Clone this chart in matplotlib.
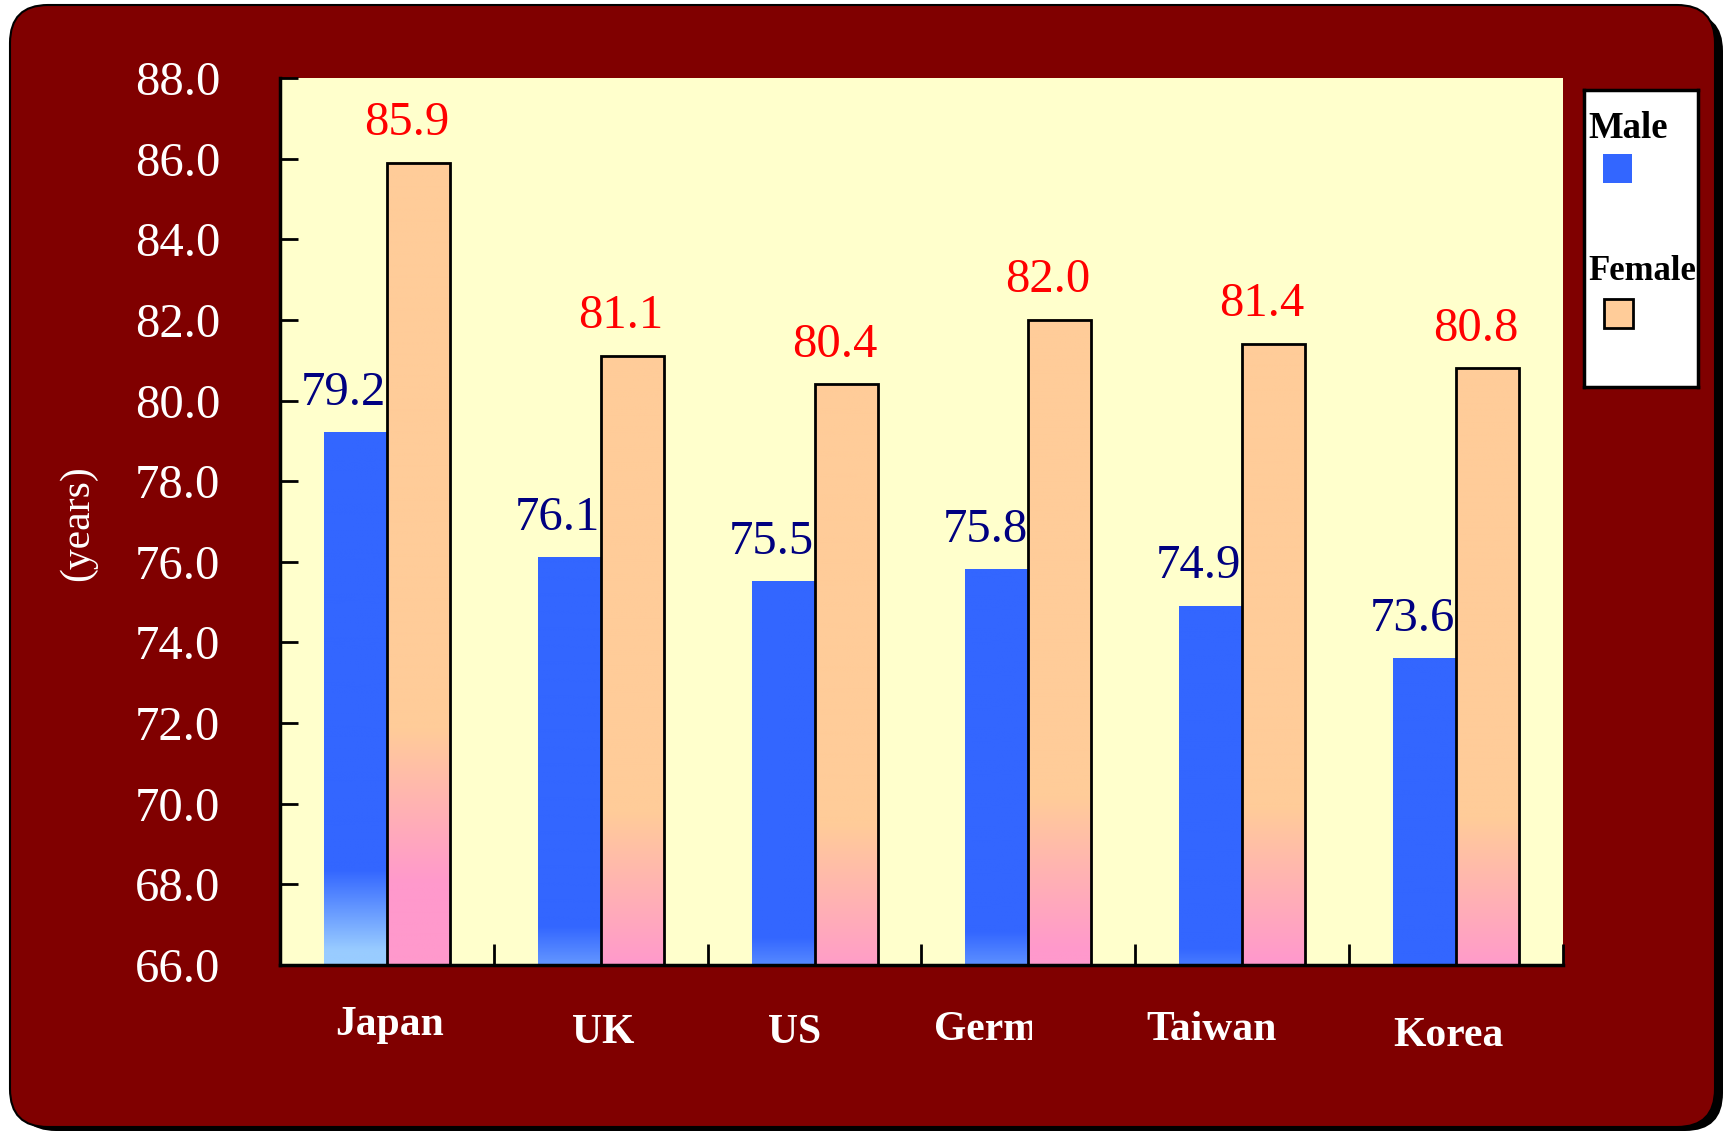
import numpy as np
import matplotlib
matplotlib.use("Agg")
import matplotlib.pyplot as plt
from matplotlib.patches import FancyBboxPatch, Rectangle
from matplotlib.colors import to_rgb
from matplotlib.transforms import Bbox, IdentityTransform

# ---------------- data ----------------
countries = ["Japan", "UK", "US", "Germany", "Taiwan", "Korea"]
male = [79.2, 76.1, 75.5, 75.8, 74.9, 73.6]
female = [85.9, 81.1, 80.4, 82.0, 81.4, 80.8]
series_names = ["Male", "Female"]
y_ticks = [66, 68, 70, 72, 74, 76, 78, 80, 82, 84, 86, 88]
y_label = "(years)"

# ---------------- style ----------------
W, H = 1724, 1131
DPI = 100
SERIF = ["Liberation Serif", "DejaVu Serif"]
plt.rcParams["font.family"] = SERIF

FRAME = "#800000"
PLOT_BG = "#FFFFCC"
BLUE = "#3366FF"
LIGHT_BLUE = "#99CCFF"
PEACH = "#FFCC99"
PINK = "#FF99CC"

# small pixel nudges of the category labels (as placed in the original)
label_dx = [3, 2, -20, -10, -31, -8]
label_dy = [0, 8, 8, 5, 5, 11]

fig = plt.figure(figsize=(W / DPI, H / DPI), dpi=DPI, facecolor="white")


def fx(px):
    return px / W


def fy(py):  # top-origin pixel -> figure fraction
    return 1 - py / H


# rounded frame with shadow (pixel coordinates)
shadow = FancyBboxPatch((18, 0), 1705, 1118,
                        boxstyle="round,pad=0,rounding_size=38",
                        transform=IdentityTransform(), facecolor="black",
                        edgecolor="none", zorder=-3)
fig.patches.append(shadow)
frame = FancyBboxPatch((10, 4), 1705, 1122,
                       boxstyle="round,pad=0,rounding_size=38",
                       transform=IdentityTransform(), facecolor=FRAME,
                       edgecolor="black", linewidth=1.5, zorder=-2)
fig.patches.append(frame)

# main axes
ax_l, ax_r, ax_t, ax_b = 280, 1563, 78, 965
ax = fig.add_axes([fx(ax_l), fy(ax_b), fx(ax_r - ax_l), (ax_b - ax_t) / H])
ax.set_facecolor(PLOT_BG)
ymin, ymax = y_ticks[0], y_ticks[-1]

x = np.arange(len(countries))
bw = 0.295
bars_m = ax.bar(x - bw / 2, male, width=bw, facecolor="none",
                edgecolor="none", zorder=3)
bars_f = ax.bar(x + bw / 2, female, width=bw, facecolor="none",
                edgecolor="black", linewidth=2, zorder=4)


def blend(c1, c2, f):
    a, b = np.array(to_rgb(c1)), np.array(to_rgb(c2))
    return a[None, :] * (1 - f[:, None]) + b[None, :] * f[:, None]


for rect, v in zip(bars_m, male):
    ys = np.linspace(ymin, v, 300)
    start = 32.7 + 0.45 * v
    f = np.clip((start - ys) / 2.0, 0, 1)
    img = blend(BLUE, LIGHT_BLUE, f)[:, None, :]
    x0 = rect.get_x()
    ax.imshow(img, extent=[x0, x0 + rect.get_width(), ymin, v],
              origin="lower", aspect="auto", zorder=2,
              interpolation="bilinear")

for rect, v in zip(bars_f, female):
    ys = np.linspace(ymin, v, 300)
    peach_end = 34.9 + 0.43 * v
    f = np.clip((peach_end - ys) / 3.8, 0, 1)
    img = blend(PEACH, PINK, f)[:, None, :]
    x0 = rect.get_x()
    ax.imshow(img, extent=[x0, x0 + rect.get_width(), ymin, v],
              origin="lower", aspect="auto", zorder=2,
              interpolation="bilinear")

ax.set_xlim(-0.5, len(countries) - 0.5)
ax.set_ylim(ymin, ymax)
ax.set_yticks(y_ticks)
ax.set_yticklabels([f"{t:.1f}" for t in y_ticks])
ax.tick_params(axis="y", direction="in", length=13, width=2, color="black",
               labelcolor="white", labelsize=35, pad=43)
ax.set_xticks(x)
ax.set_xticklabels([])
ax.tick_params(axis="x", which="major", length=0)
ax.set_xticks(np.arange(-0.5, len(countries)), minor=True)
ax.tick_params(axis="x", which="minor", direction="in", length=15, width=2,
               color="black")
for s in ["top", "right"]:
    ax.spines[s].set_visible(False)
for s in ["left", "bottom"]:
    ax.spines[s].set_linewidth(2.5)
    ax.spines[s].set_color("black")
    ax.spines[s].set_zorder(6)

# data labels
for xi, v in zip(x, male):
    ax.annotate(f"{v:.1f}", (xi - bw / 2, v), xytext=(-8.5, 20),
                textcoords="offset points", ha="center", va="baseline",
                color="#000080", fontsize=35, zorder=7, annotation_clip=False)
for xi, v in zip(x, female):
    ax.annotate(f"{v:.1f}", (xi + bw / 2, v), xytext=(-8.5, 20),
                textcoords="offset points", ha="center", va="baseline",
                color="#FF0000", fontsize=35, zorder=7, annotation_clip=False)

# category labels
xform = ax.get_xaxis_transform()
for xi, name, dx, dy in zip(x, countries, label_dx, label_dy):
    t = ax.annotate(name, (xi, 0), xycoords=xform,
                    xytext=(dx * 0.72, -(60 + dy) * 0.72),
                    textcoords="offset points", ha="center", va="center",
                    color="white", fontsize=30, fontweight="bold",
                    annotation_clip=False)
    if name == "Germany":
        clip_x = ax.transData.transform((xi + 0.015, 0))[0]
        t.set_clip_on(True)
        t.set_clip_box(Bbox.from_extents(0, 0, clip_x, H))

# y label
fig.text(fx(78), fy(523), y_label, rotation=90, ha="center", va="center",
         color="white", fontsize=30)

# legend (drawn manually)
lg = fig.add_axes([fx(1584), fy(387), fx(1698 - 1584), (387 - 90) / H])
lg.set_xlim(1584, 1698)
lg.set_ylim(387, 90)
lg.set_xticks([])
lg.set_yticks([])
lg.set_facecolor("white")
for s in lg.spines.values():
    s.set_linewidth(2.5)
    s.set_color("black")
lg.text(1588, 138, series_names[0], ha="left", va="baseline", fontsize=26.5,
        fontweight="bold", color="black")
lg.add_patch(Rectangle((1603, 154), 29, 29, facecolor=BLUE, edgecolor="none"))
lg.text(1588, 280, series_names[1], ha="left", va="baseline", fontsize=25,
        fontweight="bold", color="black")
lg.add_patch(Rectangle((1604, 299), 29, 29, facecolor=PEACH,
                       edgecolor="black", linewidth=2))

fig.savefig("out.png", dpi=DPI, facecolor="white")
